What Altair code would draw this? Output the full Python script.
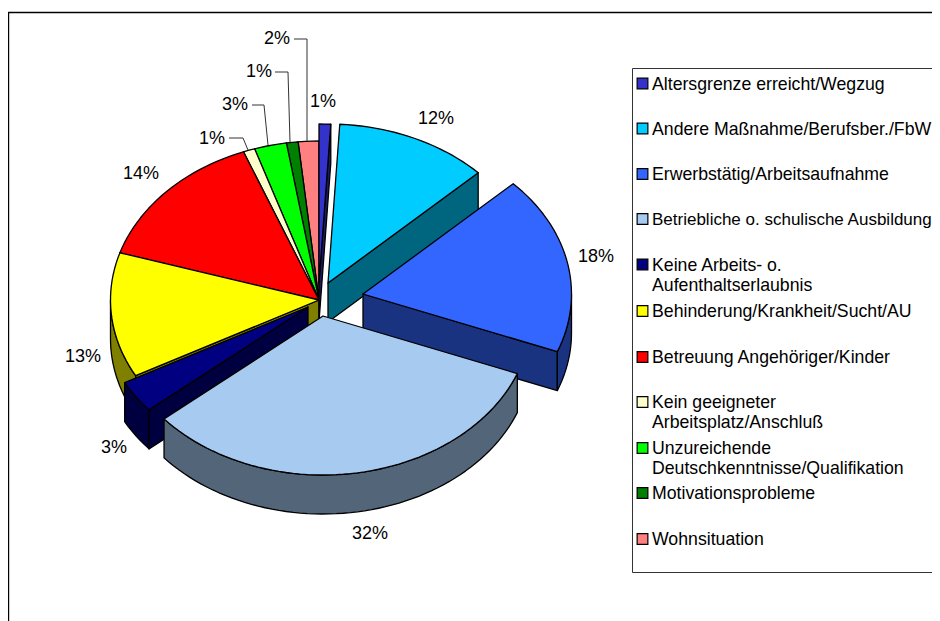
import math
import altair as alt
import pandas as pd

# ---- values ----
categories = ["Altersgrenze erreicht/Wegzug", "Andere Maßnahme/Berufsber./FbW", "Erwerbstätig/Arbeitsaufnahme",
              "Betriebliche o. schulische Ausbildung", "Keine Arbeits- o.\nAufenthaltserlaubnis",
              "Behinderung/Krankheit/Sucht/AU", "Betreuung Angehöriger/Kinder", "Kein geeigneter\nArbeitsplatz/Anschluß",
              "Unzureichende\nDeutschkenntnisse/Qualifikation", "Motivationsprobleme", "Wohnsituation"]
shares = [0.9, 11.9, 18.1, 32.9, 3.3, 12.7, 14.3, 0.9, 2.5, 0.9, 1.6]
share_labels = ["1%", "12%", "18%", "32%", "3%", "13%", "14%", "1%", "3%", "1%", "2%"]
top_colors = ["#3333CC", "#00CCFF", "#3366FF", "#A6CAF0", "#000080", "#FFFF00", "#FF0000", "#FFFFCC", "#00FF00", "#008000", "#FF8080"]
side_colors = ["#1A1A66", "#006680", "#1A3380", "#536578", "#000040", "#808000", "#800000", "#808066", "#008000", "#004000", "#804040"]

# ---- layout of the pseudo-3D pie ----
W, H = 924, 613
RX, RY, DEPTH = 208.5, 159, 39
apex = [(319, 283), (328, 283), (363, 294), (323, 316), (308, 307), (319, 300),
        (319, 300), (319, 300), (319, 300), (319, 300), (319, 300)]
draw_order = [10, 9, 8, 7, 6, 5, 4, 0, 1, 2, 3]
label_pos = [(323, 102), (436, 119), (596, 257), (370, 534), (114, 448), (83, 357),
             (141, 174), (212, 139), (235, 105), (259, 72), (277, 39)]
leaders = [[(229, 138), (243, 138), (248, 150)], [(252, 105), (264, 105), (268, 145)],
           [(275, 72), (288, 72), (290, 142)], [(294, 39), (307, 39), (307, 141)]]
legend_y = [84.5, 129.5, 175, 220, 265.5, 312, 358, 403, 449, 494, 540]
swatch_y = [83.5, 128.5, 174, 219, 264.5, 311, 357, 402, 448, 493, 539]
legend_line = 20

x_scale = alt.Scale(domain=[8, 8 + W], range=[0, W], nice=False, zero=False)
y_scale = alt.Scale(domain=[8, 8 + H], range=[0, H], nice=False, zero=False)
X = alt.X("x:Q", scale=x_scale, axis=None)
Y = alt.Y("y:Q", scale=y_scale, axis=None)


def shape(points, fill=None, stroke="black", width=1.3, closed=True):
    df = pd.DataFrame({"x": [p[0] for p in points], "y": [p[1] for p in points], "i": range(len(points))})
    kw = dict(stroke=stroke, strokeWidth=width, clip=True, strokeJoin="round")
    kw["interpolate"] = "linear-closed" if closed else "linear"
    if fill:
        kw["fill"] = fill
    return alt.Chart(df).mark_line(**kw).encode(x=X, y=Y, order=alt.Order("i:Q"))


def pt(c, t, dy=0):
    r = math.radians(t)
    return (c[0] + RX * math.sin(r), c[1] - RY * math.cos(r) + dy)


def arc(c, a, b, dy=0):
    n = max(2, int(abs(b - a) / 2) + 1)
    return [pt(c, a + (b - a) * k / n, dy) for k in range(n + 1)]


layers = []
# outer frame and legend box
layers.append(shape([(8.5, 12.5), (960, 12.5), (960, 650), (8.5, 650)], stroke="black", width=1.4))
layers.append(shape([(632.5, 68.5), (960, 68.5), (960, 572.5), (632.5, 572.5)], stroke="#333333", width=1))

bounds = [0]
for s in shares:
    bounds.append(bounds[-1] + s * 3.6)

for i in draw_order:
    a, b = bounds[i], bounds[i + 1]
    c = apex[i]
    # cut faces
    if 180 < a < 360:
        p = pt(c, a)
        layers.append(shape([c, p, (p[0], p[1] + DEPTH), (c[0], c[1] + DEPTH)], side_colors[i]))
    if 0 < b < 180:
        p = pt(c, b)
        layers.append(shape([c, p, (p[0], p[1] + DEPTH), (c[0], c[1] + DEPTH)], side_colors[i]))
    # rim
    ra, rb = max(a, 90), min(b, 270)
    if ra < rb:
        layers.append(shape(arc(c, ra, rb) + arc(c, rb, ra, DEPTH), side_colors[i]))
    # top face
    layers.append(shape([c] + arc(c, a, b), top_colors[i]))

for line in leaders:
    layers.append(shape(line, stroke="#333333", width=1, closed=False))

font = "Liberation Sans"
label_df = pd.DataFrame({"x": [p[0] for p in label_pos], "y": [p[1] for p in label_pos], "t": share_labels})
layers.append(alt.Chart(label_df).mark_text(font=font, fontSize=18, color="black", align="center", baseline="middle")
              .encode(x=X, y=Y, text="t:N"))

rows, long_rows = [], []
for cat, y in zip(categories, legend_y):
    for k, part in enumerate(cat.split("\n")):
        target = long_rows if part.startswith("Betriebliche") else rows
        target.append({"x": 652, "y": y + k * legend_line, "t": part})
layers.append(alt.Chart(pd.DataFrame(rows)).mark_text(font=font, fontSize=17.7, color="black", align="left", baseline="middle")
              .encode(x=X, y=Y, text="t:N"))
layers.append(alt.Chart(pd.DataFrame(long_rows)).mark_text(font=font, fontSize=17, color="black", align="left", baseline="middle")
              .encode(x=X, y=Y, text="t:N"))

swatch_df = pd.DataFrame({"x": [642.5] * 11, "y": swatch_y, "c": top_colors})
layers.append(alt.Chart(swatch_df).mark_square(size=115, stroke="black", strokeWidth=1.2, opacity=1, fillOpacity=1)
              .encode(x=X, y=Y, fill=alt.Fill("c:N", scale=None)))

chart = alt.layer(*layers).properties(
    width=W, height=H, padding=0, background="white",
    autosize=alt.AutoSizeParams(type="none"),
).configure_view(stroke=None)

chart.save("out.html", embed_options={"renderer": "svg", "actions": False})
